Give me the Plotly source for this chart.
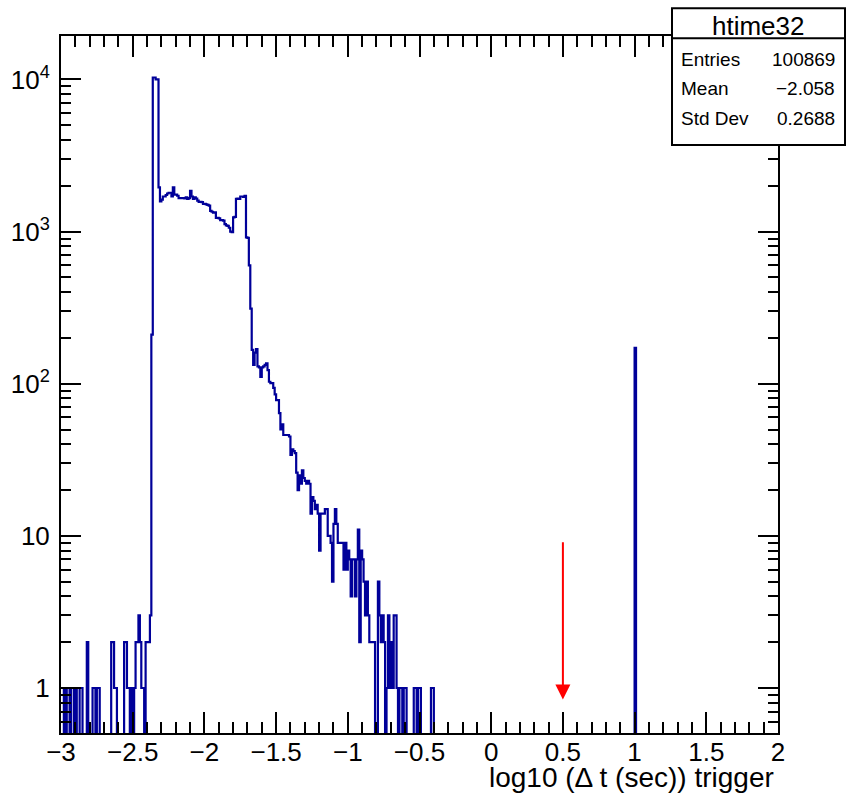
import numpy as np
import plotly.graph_objects as go

# ---------------- data ----------------
X_MIN, X_MAX, BIN_W = -3.0, 2.0, 0.01
N_BINS = 500

# bins -3.00 ... -2.38
left_tail_start = -3.00
left_tail_counts = [0, 0, 1, 0, 1, 1, 0, 1, 1, 0,
                    1, 0, 0, 1, 1, 0, 0, 0, 2, 0,
                    0, 0, 1, 1, 0, 1, 1, 0, 0, 0,
                    0, 0, 0, 0, 0, 2, 2, 1, 1, 0,
                    0, 0, 0, 0, 2, 2, 1, 1, 0, 1,
                    0, 1, 2, 2, 3, 2, 1, 1, 0, 2,
                    2, 2, 3]
# bins -2.37 ... -1.37
core_start = -2.37
core_counts = [210, 10300, 10300, 10000, 10000, 1950, 1580, 1620, 1700, 1700,
               1740, 1780, 1800, 1800, 1700, 1950, 1750, 1750, 1720, 1660,
               1660, 1660, 1660, 1650, 1680, 1640, 1660, 1850, 1700, 1640,
               1680, 1650, 1600, 1570, 1570, 1560, 1520, 1520, 1510, 1500,
               1480, 1370, 1350, 1330, 1340, 1230, 1230, 1220, 1190, 1190,
               1180, 1120, 1100, 1090, 1060, 1000, 990, 1240, 1250, 1640,
               1650, 1640, 1700, 1700, 1690, 1720, 917, 910, 600, 312,
               167, 133, 160, 169, 130, 128, 111, 128, 130, 133,
               136, 123, 103, 101, 101, 94, 85, 78, 78, 64,
               50, 54, 46, 46, 46, 46, 45, 34, 37, 36,
               35]
# bins -1.36 ... -0.41
right_tail_start = -1.36
right_tail_counts = [26, 20, 25, 22, 27, 24, 23, 22, 23, 22,
                     14, 18, 17, 15, 16, 14, 8, 14, 14, 14,
                     15, 15, 10, 10, 9, 5, 12, 15, 12, 9,
                     9, 9, 9, 6, 9, 6, 8, 7, 4, 7,
                     7, 4, 7, 11, 2, 8, 7, 5, 3, 5,
                     3, 2, 2, 2, 2, 0, 0, 5, 3, 2,
                     3, 2, 0, 1, 3, 1, 2, 1, 3, 3,
                     1, 0, 1, 1, 0, 1, 1, 0, 0, 0,
                     0, 0, 1, 1, 0, 1, 1, 0, 0, 0,
                     0, 0, 0, 0, 1, 1]
# isolated bin at 1.00
spike_start = 1.00
spike_counts = [172]

x_tick_vals = [-3, -2.5, -2, -1.5, -1, -0.5, 0, 0.5, 1, 1.5, 2]
y_tick_vals = [1, 10, 100, 1000, 10000]
y_tick_text = ["1", "10", "10<sup>2</sup>", "10<sup>3</sup>", "10<sup>4</sup>"]
minor_digits = [2, 3, 4, 5, 6, 7, 8, 9]
minor_decades = [0.1, 1, 10, 100, 1000, 10000]

Y_RANGE = (0.506, 19300)
X_TITLE = "log10 (\u0394 t (sec)) trigger"

STATS_TITLE = "htime32"
stats_names = ["Entries", "Mean", "Std Dev"]
stats_values = ["100869", "\u22122.058", "0.2688"]

ARROW_X = 0.5
ARROW_Y_TAIL = 9.3
ARROW_Y_TIP = 0.84

# ---------------- build histogram ----------------
counts = np.zeros(N_BINS)
for start, seg in [(left_tail_start, left_tail_counts), (core_start, core_counts),
                   (right_tail_start, right_tail_counts), (spike_start, spike_counts)]:
    i0 = int(round((start - X_MIN) / BIN_W))
    counts[i0:i0 + len(seg)] = seg
edges = X_MIN + BIN_W * np.arange(N_BINS + 1)
yv = np.where(counts > 0, counts, 1e-3)
yv = np.append(yv, yv[-1])

FONT = "Liberation Sans, Arial, Helvetica, sans-serif"
W, H = 846, 796
L, R, T, B = 61, 68, 36, 63
PW, PH = W - L - R, H - T - B


def px(xp):
    return (xp - L) / PW


def py(yp):
    return (H - B - yp) / PH


fig = go.Figure()
fig.add_trace(go.Scatter(x=edges, y=yv, mode="lines", line_shape="hv",
                         line=dict(color="#000099", width=2.2), hoverinfo="skip",
                         showlegend=False))

minor_vals = [d * m for m in minor_decades for d in minor_digits]
minor_vals = [v for v in minor_vals if Y_RANGE[0] < v < Y_RANGE[1]]

fig.update_layout(
    width=W, height=H,
    margin=dict(l=L, r=R, t=T, b=B, pad=0),
    paper_bgcolor="white", plot_bgcolor="white",
    font=dict(family=FONT, color="black"),
    showlegend=False,
    xaxis=dict(range=[X_MIN, X_MAX], tickmode="array", tickvals=x_tick_vals,
               ticks="inside", ticklen=21, tickwidth=2, tickcolor="black",
               minor=dict(tickmode="linear", tick0=X_MIN, dtick=0.1, ticks="inside",
                          ticklen=11, tickwidth=2, tickcolor="black"),
               showline=True, linewidth=2, linecolor="black", mirror="ticks",
               showgrid=False, zeroline=False, automargin=False,
               tickfont=dict(size=26, family=FONT), ticklabelstandoff=-5),
    yaxis=dict(type="log", range=[np.log10(Y_RANGE[0]), np.log10(Y_RANGE[1])],
               tickmode="array", tickvals=y_tick_vals, ticktext=y_tick_text,
               ticks="inside", ticklen=20, tickwidth=2, tickcolor="black",
               minor=dict(tickmode="array", tickvals=minor_vals, ticks="inside",
                          ticklen=10, tickwidth=2, tickcolor="black"),
               showline=True, linewidth=2, linecolor="black", mirror="ticks",
               showgrid=False, zeroline=False, automargin=False,
               tickfont=dict(size=26, family=FONT), ticklabelstandoff=4),
)

# x-axis title (right aligned, ROOT style)
fig.add_annotation(x=px(776), y=py(777), xref="paper", yref="paper",
                   text=X_TITLE, showarrow=False, xanchor="right", yanchor="middle",
                   font=dict(size=28, family=FONT, color="black"))

# red arrow
fig.add_annotation(x=ARROW_X, y=np.log10(ARROW_Y_TIP), ax=ARROW_X, ay=np.log10(ARROW_Y_TAIL),
                   xref="x", yref="y", axref="x", ayref="y", text="", showarrow=True,
                   arrowhead=2, arrowsize=1.5, arrowwidth=2, arrowcolor="#ff0000", standoff=0)

# stats box
bx0, bx1, by_top, by_sep, by_bot = 672, 845, 8.3, 38.3, 145
fig.add_shape(type="rect", xref="paper", yref="paper", x0=px(bx0), x1=px(bx1),
              y0=py(by_bot), y1=py(by_top), line=dict(color="black", width=2),
              fillcolor="white", layer="above")
fig.add_shape(type="line", xref="paper", yref="paper", x0=px(bx0), x1=px(bx1),
              y0=py(by_sep), y1=py(by_sep), line=dict(color="black", width=2), layer="above")
fig.add_annotation(x=px((bx0 + bx1) / 2), y=py(26), xref="paper", yref="paper",
                   text=STATS_TITLE, showarrow=False, xanchor="center", yanchor="middle",
                   font=dict(size=26, family=FONT, color="black"))
row_y = [60, 88.5, 118]
for name, val, yy in zip(stats_names, stats_values, row_y):
    fig.add_annotation(x=px(679), y=py(yy), xref="paper", yref="paper", text=name,
                       showarrow=False, xanchor="left", yanchor="middle",
                       font=dict(size=19, family=FONT, color="black"))
    fig.add_annotation(x=px(837), y=py(yy), xref="paper", yref="paper", text=val,
                       showarrow=False, xanchor="right", yanchor="middle",
                       font=dict(size=19, family=FONT, color="black"))

fig.write_html("out.html")
